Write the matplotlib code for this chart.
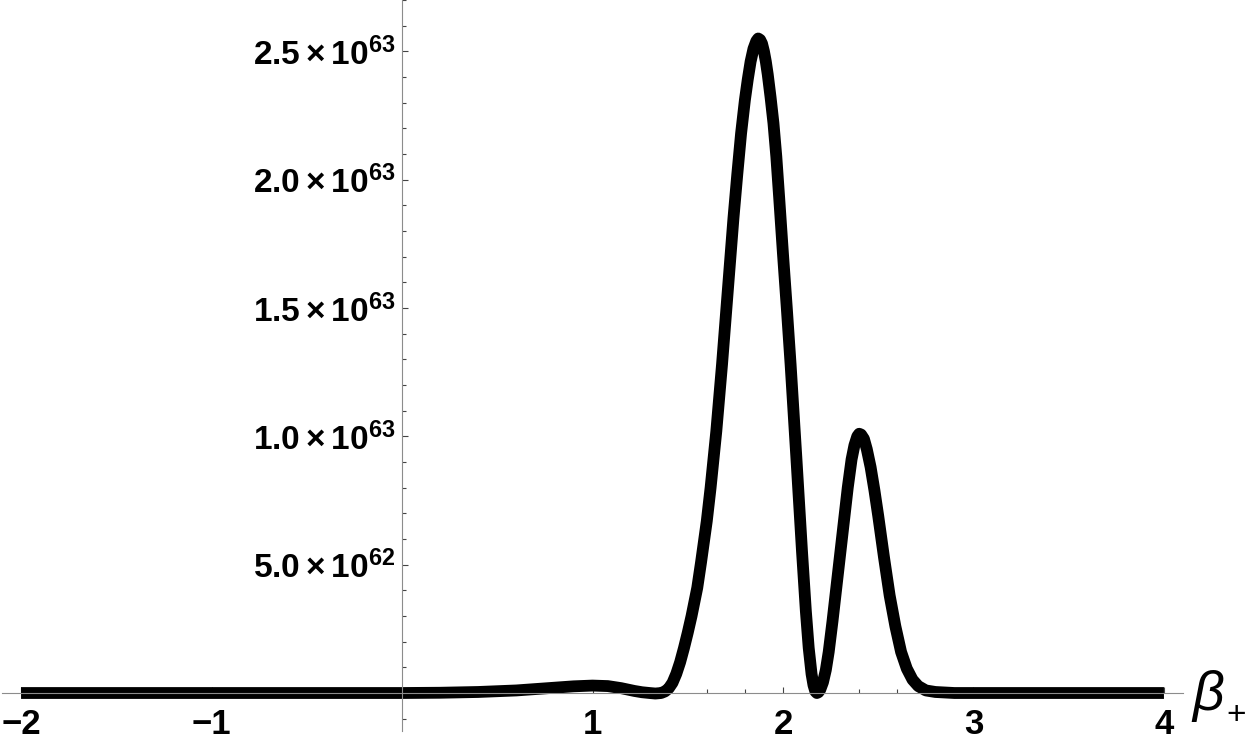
import matplotlib
matplotlib.use("Agg")
import matplotlib.pyplot as plt
from matplotlib.ticker import MultipleLocator

plt.rcParams["mathtext.fontset"] = "custom"
plt.rcParams["mathtext.rm"] = "Liberation Sans:bold"
plt.rcParams["mathtext.bf"] = "Liberation Sans:bold"
plt.rcParams["mathtext.it"] = "Liberation Sans:bold"

# curve (y in units of 1e63)
beta = [
    -2.0, 0.0, 0.2, 0.4, 0.6, 0.75, 0.9, 1.0, 1.08, 1.15, 1.22, 1.26, 1.30,
    1.33, 1.36, 1.38, 1.40, 1.42, 1.44, 1.46, 1.48, 1.50, 1.52, 1.55, 1.57,
    1.60, 1.62, 1.65, 1.68, 1.70, 1.72, 1.74, 1.76, 1.78, 1.80, 1.815, 1.83,
    1.845, 1.86, 1.87, 1.88, 1.89, 1.90, 1.91, 1.92, 1.935, 1.95, 1.965,
    1.98, 2.00, 2.02, 2.04, 2.07, 2.10, 2.12, 2.135, 2.15, 2.16, 2.17, 2.178,
    2.186, 2.195, 2.21, 2.225, 2.24, 2.26, 2.28, 2.30, 2.32, 2.34, 2.36,
    2.375, 2.39, 2.40, 2.41, 2.425, 2.44, 2.46, 2.48, 2.50, 2.53, 2.56, 2.59,
    2.62, 2.65, 2.68, 2.71, 2.75, 2.80, 2.90, 4.0,
]
density = [
    0.0, 0.0, 0.001, 0.004, 0.010, 0.018, 0.026, 0.029, 0.027, 0.019, 0.008,
    0.003, 0.0, -0.002, 0.0, 0.006, 0.018, 0.04, 0.075, 0.12, 0.175, 0.235,
    0.30, 0.41, 0.51, 0.67, 0.80, 1.02, 1.28, 1.47, 1.66, 1.85, 2.02, 2.18,
    2.31, 2.39, 2.46, 2.51, 2.54, 2.55, 2.545, 2.53, 2.50, 2.46, 2.41, 2.32,
    2.22, 2.09, 1.93, 1.71, 1.50, 1.28, 0.92, 0.55, 0.32, 0.176, 0.074,
    0.031, 0.006, 0.0, 0.003, 0.012, 0.042, 0.09, 0.16, 0.28, 0.41, 0.54,
    0.67, 0.80, 0.91, 0.965, 1.0, 1.01, 1.007, 0.99, 0.95, 0.88, 0.79, 0.69,
    0.53, 0.38, 0.26, 0.16, 0.095, 0.052, 0.027, 0.01, 0.004, 0.0, 0.0,
]
scale = 1e63

x_ticks = [-2, -1, 1, 2, 3, 4]
x_tick_labels = ["\u22122", "\u22121", "1", "2", "3", "4"]
y_ticks = [0.5e63, 1.0e63, 1.5e63, 2.0e63, 2.5e63]
y_tick_labels = [r"$5.0\times10^{62}$", r"$1.0\times10^{63}$",
                 r"$1.5\times10^{63}$", r"$2.0\times10^{63}$",
                 r"$2.5\times10^{63}$"]

fig = plt.figure(figsize=(12.5, 7.43), dpi=100)
ax = fig.add_axes([2 / 1250, 12 / 743, 1181 / 1250, 731 / 743])

ax.plot(beta, [v * scale for v in density], color="black", lw=8.5,
        solid_capstyle="butt", solid_joinstyle="round")

ax.set_xlim(-2.1, 4.1)
ax.set_ylim(-0.148e63, 2.70e63)

for side in ["top", "right"]:
    ax.spines[side].set_visible(False)
ax.spines["left"].set_position(("data", 0))
ax.spines["bottom"].set_position(("data", 0))
for side in ["left", "bottom"]:
    ax.spines[side].set_color("#8c8c8c")
    ax.spines[side].set_linewidth(0.8)

ax.set_xticks(x_ticks, x_tick_labels)
ax.set_yticks(y_ticks, y_tick_labels)
ax.xaxis.set_minor_locator(MultipleLocator(0.2))
ax.yaxis.set_minor_locator(MultipleLocator(0.1e63))
ax.tick_params(which="both", direction="in", color="#444444", width=0.8)
ax.tick_params(which="major", length=4)
ax.tick_params(which="minor", length=3)
ax.tick_params(axis="x", pad=11, labelsize=25)
ax.tick_params(axis="y", pad=5, labelsize=24)
for lab in ax.get_xticklabels():
    lab.set_fontfamily("Liberation Sans")
    lab.set_fontweight("bold")

fig.text(1192 / 1250, 33 / 743, "\u03b2", fontsize=40, style="italic",
         family="Liberation Sans", ha="left", va="baseline")
fig.text(1236 / 1250, 19 / 743, "+", fontsize=24, family="Liberation Sans",
         ha="center", va="baseline")

fig.savefig("out.png", dpi=100)
